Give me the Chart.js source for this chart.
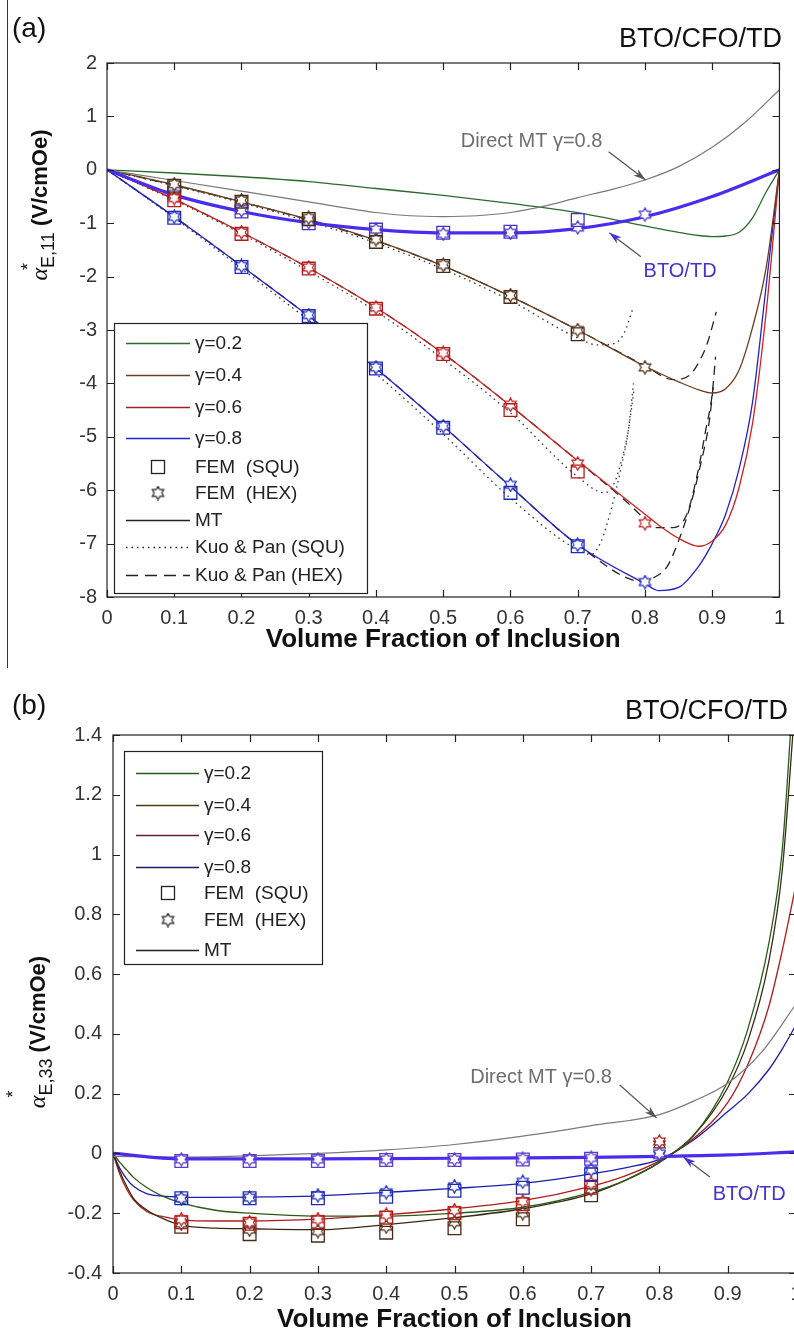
<!DOCTYPE html>
<html>
<head>
<meta charset="utf-8">
<script src="https://cdn.jsdelivr.net/npm/chart.js@4.4.0/dist/chart.umd.min.js"></script>
<style>
  html, body { margin: 0; padding: 0; background: #fff; overflow: hidden; }
  #wrap { position: relative; width: 794px; height: 1334px; overflow: hidden; }
  #chartA { position: absolute; left: 0; top: 0; }
  #chartB { position: absolute; left: 0; top: 660px; }
  #margin-line { position: absolute; left: 7px; top: 0; width: 1px; height: 668px; background: #333; }
</style>
</head>
<body>
<div id="wrap">
  <canvas id="chartA" width="794" height="660"></canvas>
  <canvas id="chartB" width="820" height="674"></canvas>
  <div id="margin-line"></div>
</div>
<script>
// ============ PANEL (a) DATA ============
const xTicksA = [0, 0.1, 0.2, 0.3, 0.4, 0.5, 0.6, 0.7, 0.8, 0.9, 1];
const xTickLabelsA = ['0', '0.1', '0.2', '0.3', '0.4', '0.5', '0.6', '0.7', '0.8', '0.9', '1'];
const yTicksA = [-8, -7, -6, -5, -4, -3, -2, -1, 0, 1, 2];
const yTickLabelsA = ['-8', '-7', '-6', '-5', '-4', '-3', '-2', '-1', '0', '1', '2'];

// MT curves, one x grid for the four gamma values
const mtXA = [0, 0.1, 0.2, 0.3, 0.4, 0.5, 0.6, 0.7, 0.8, 0.82, 0.85, 0.88, 0.9, 0.92, 0.94, 0.96, 0.98, 1.0];
const mtA_g02 = [0, -0.06, -0.13, -0.22, -0.35, -0.48, -0.63, -0.8, -1.05, -1.1, -1.17, -1.23, -1.25, -1.24, -1.17, -0.9, -0.42, 0];
const mtA_g04 = [0, -0.28, -0.6, -0.93, -1.32, -1.8, -2.37, -3.0, -3.68, -3.8, -3.97, -4.12, -4.18, -4.1, -3.75, -2.95, -1.85, 0];
const mtA_g06 = [0, -0.55, -1.17, -1.84, -2.58, -3.44, -4.42, -5.45, -6.45, -6.65, -6.9, -7.05, -6.95, -6.65, -5.95, -4.75, -2.7, 0];
const mtA_g08 = [0, -0.88, -1.8, -2.74, -3.72, -4.8, -5.93, -7.02, -7.75, -7.88, -7.82, -7.42, -7.0, -6.45, -5.6, -4.35, -2.2, 0];

// Direct MT gamma=0.8 (grey)
const directXA = [0, 0.1, 0.2, 0.3, 0.4, 0.45, 0.5, 0.55, 0.6, 0.65, 0.7, 0.75, 0.8, 0.85, 0.9, 0.95, 1.0];
const directA = [0, -0.2, -0.4, -0.6, -0.8, -0.86, -0.875, -0.86, -0.8, -0.68, -0.52, -0.37, -0.19, 0.06, 0.42, 0.9, 1.5];

// BTO/TD (thick blue)
const btoXA = [0, 0.1, 0.2, 0.3, 0.4, 0.5, 0.6, 0.7, 0.8, 0.9, 1.0];
const btoA = [0, -0.47, -0.78, -0.99, -1.12, -1.18, -1.18, -1.1, -0.88, -0.5, 0];

// Kuo & Pan (SQU) dotted
const kpsXA_g04 = [0, 0.1, 0.2, 0.3, 0.4, 0.5, 0.6, 0.7, 0.73, 0.755, 0.77, 0.782];
const kpsA_g04 = [0, -0.3, -0.62, -0.97, -1.37, -1.86, -2.45, -3.15, -3.28, -3.25, -3.03, -2.6];
const kpsXA_g06 = [0, 0.1, 0.2, 0.3, 0.4, 0.5, 0.6, 0.7, 0.74, 0.755, 0.765, 0.775, 0.784];
const kpsA_g06 = [0, -0.57, -1.2, -1.9, -2.65, -3.55, -4.55, -5.75, -6.05, -5.85, -5.45, -4.9, -4.1];
const kpsXA_g08 = [0, 0.1, 0.2, 0.3, 0.4, 0.5, 0.6, 0.7, 0.72, 0.735, 0.75, 0.765, 0.775, 0.783];
const kpsA_g08 = [0, -0.9, -1.85, -2.82, -3.82, -4.95, -6.15, -7.12, -7.2, -6.95, -6.35, -5.55, -4.9, -4.0];

// Kuo & Pan (HEX) dashed
const kphXA_g04 = [0, 0.1, 0.2, 0.3, 0.4, 0.5, 0.6, 0.7, 0.8, 0.842, 0.867, 0.882, 0.893, 0.906];
const kphA_g04 = [0, -0.29, -0.6, -0.94, -1.33, -1.8, -2.37, -3.0, -3.67, -3.93, -3.84, -3.56, -3.24, -2.66];
const kphXA_g06 = [0, 0.1, 0.2, 0.3, 0.4, 0.5, 0.6, 0.7, 0.8, 0.81, 0.842, 0.862, 0.878, 0.89, 0.9, 0.905];
const kphA_g06 = [0, -0.55, -1.17, -1.84, -2.58, -3.44, -4.42, -5.45, -6.55, -6.7, -6.7, -6.46, -5.7, -4.9, -4.2, -3.5];
const kphXA_g08 = [0, 0.1, 0.2, 0.3, 0.4, 0.5, 0.6, 0.7, 0.8, 0.813, 0.833, 0.849, 0.867, 0.882, 0.896, 0.902];
const kphA_g08 = [0, -0.88, -1.8, -2.74, -3.72, -4.8, -5.93, -7.02, -7.72, -7.64, -7.43, -6.98, -6.31, -5.56, -4.68, -4.0];

// FEM points
const femSquX = [0.1, 0.2, 0.3, 0.4, 0.5, 0.6, 0.7];
const femHexX = [0.1, 0.2, 0.3, 0.4, 0.5, 0.6, 0.7, 0.8];
const squA_g04 = [-0.3, -0.6, -0.92, -1.35, -1.8, -2.38, -3.08];
const hexA_g04 = [-0.27, -0.57, -0.9, -1.3, -1.78, -2.35, -3.0, -3.7];
const squA_g06 = [-0.57, -1.2, -1.85, -2.6, -3.45, -4.5, -5.65];
const hexA_g06 = [-0.53, -1.17, -1.83, -2.58, -3.43, -4.4, -5.5, -6.62];
const squA_g08 = [-0.9, -1.82, -2.74, -3.72, -4.83, -6.05, -7.05];
const hexA_g08 = [-0.88, -1.8, -2.72, -3.7, -4.8, -5.9, -7.02, -7.72];
const squA_bto = [-0.43, -0.78, -1.0, -1.12, -1.18, -1.16, -0.94];
const hexA_bto = [-0.45, -0.76, -0.98, -1.12, -1.2, -1.18, -1.08, -0.84];

// ============ PANEL (b) DATA ============
const xTicksB = [0, 0.1, 0.2, 0.3, 0.4, 0.5, 0.6, 0.7, 0.8, 0.9, 1];
const xTickLabelsB = ['0', '0.1', '0.2', '0.3', '0.4', '0.5', '0.6', '0.7', '0.8', '0.9', '1'];
const yTicksB = [-0.4, -0.2, 0, 0.2, 0.4, 0.6, 0.8, 1, 1.2, 1.4];
const yTickLabelsB = ['-0.4', '-0.2', '0', '0.2', '0.4', '0.6', '0.8', '1', '1.2', '1.4'];

const mtXB = [0, 0.01, 0.02, 0.03, 0.05, 0.07, 0.1, 0.15, 0.2, 0.3, 0.4, 0.5, 0.6, 0.7, 0.75, 0.8, 0.85, 0.9, 0.93, 0.96, 0.98, 1.0];
const mtB_g02 = [0, -0.03, -0.055, -0.08, -0.115, -0.14, -0.165, -0.19, -0.2, -0.21, -0.21, -0.2, -0.18, -0.13, -0.09, -0.03, 0.06, 0.24, 0.42, 0.7, 1.02, 1.7];
const mtB_g04 = [0, -0.06, -0.11, -0.15, -0.19, -0.215, -0.24, -0.25, -0.252, -0.255, -0.238, -0.215, -0.185, -0.135, -0.09, -0.03, 0.06, 0.22, 0.38, 0.64, 0.95, 1.55];
const mtB_g06 = [0, -0.07, -0.12, -0.155, -0.195, -0.21, -0.222, -0.226, -0.226, -0.22, -0.205, -0.185, -0.158, -0.11, -0.075, -0.025, 0.05, 0.17, 0.3, 0.49, 0.68, 0.9];
const mtB_g08 = [0, -0.05, -0.085, -0.11, -0.135, -0.142, -0.146, -0.147, -0.146, -0.142, -0.13, -0.117, -0.1, -0.068, -0.048, -0.02, 0.045, 0.14, 0.2, 0.28, 0.35, 0.43];

const directXB = [0, 0.1, 0.2, 0.3, 0.4, 0.5, 0.6, 0.7, 0.8, 0.85, 0.9, 0.95, 1.0];
const directB = [-0.01, -0.012, -0.008, 0.0, 0.012, 0.03, 0.058, 0.093, 0.13, 0.175, 0.235, 0.34, 0.5];

const btoXB = [0, 0.1, 0.2, 0.3, 0.4, 0.5, 0.6, 0.7, 0.8, 0.9, 1.0];
const btoB = [0, -0.018, -0.018, -0.018, -0.017, -0.016, -0.015, -0.013, -0.01, -0.005, 0.005];

const squB_bto = [-0.025, -0.025, -0.025, -0.022, -0.022, -0.02, -0.018];
const hexB_bto = [-0.02, -0.02, -0.02, -0.02, -0.02, -0.018, -0.015, 0.0];
const squB_g08 = [-0.15, -0.15, -0.15, -0.145, -0.125, -0.115, -0.07];
const hexB_g08 = [-0.15, -0.148, -0.14, -0.13, -0.11, -0.095, -0.055, -0.005];
const squB_g06 = [-0.23, -0.235, -0.23, -0.215, -0.2, -0.17, -0.115];
const hexB_g06 = [-0.22, -0.23, -0.22, -0.205, -0.19, -0.16, -0.1, 0.04];
const squB_g04 = [-0.245, -0.27, -0.275, -0.265, -0.25, -0.22, -0.14];
const hexB_g04 = [-0.235, -0.255, -0.26, -0.245, -0.23, -0.2, -0.12, 0.03];

// ============ STYLES ============
const FONT = '"Liberation Sans", Arial, sans-serif';
const C_G02 = '#2d6a2d';
const C_G04 = '#6b3d1e';
const C_G06 = '#cc2222';
const C_G08 = '#2222cc';
const C_BTO = '#4a2cf0';
const C_GREY = '#7a7a7a';

// 6-pointed star marker as a small canvas
function starImg(color) {
  const size = 15;
  const c = document.createElement('canvas');
  c.width = size; c.height = size;
  const g = c.getContext('2d');
  const cx = size / 2, cy = size / 2, ro = 6.6, ri = 3.8;
  g.beginPath();
  for (let i = 0; i < 12; i++) {
    const r = i % 2 === 0 ? ro : ri;
    const ang = -Math.PI / 2 + i * Math.PI / 6;
    const px = cx + r * Math.cos(ang), py = cy + r * Math.sin(ang);
    if (i === 0) g.moveTo(px, py); else g.lineTo(px, py);
  }
  g.closePath();
  g.fillStyle = '#fff';
  g.fill();
  g.strokeStyle = color;
  g.lineWidth = 1.2;
  g.stroke();
  return c;
}

function curve(xs, ys, color, width, dash, order) {
  return {
    data: xs.map((x, i) => ({ x: x, y: ys[i] })),
    showLine: true,
    borderColor: color,
    borderWidth: width,
    borderDash: dash || [],
    pointRadius: 0,
    pointHoverRadius: 0,
    cubicInterpolationMode: 'monotone',
    fill: false,
    order: order === undefined ? 2 : order
  };
}

function markers(xs, ys, color, kind) {
  return {
    data: xs.map((x, i) => ({ x: x, y: ys[i] })),
    showLine: false,
    pointStyle: kind === 'star' ? starImg(color) : 'rect',
    pointRadius: 9,
    borderColor: color,
    borderWidth: 1.3,
    backgroundColor: 'rgba(0,0,0,0)',
    order: 0
  };
}

function tickLabel(ticks, labels, v) {
  let best = 0;
  ticks.forEach((t, i) => { if (Math.abs(t - v) < Math.abs(ticks[best] - v)) best = i; });
  return labels[best];
}

function scalesFor(xTicks, xLabels, yTicks, yLabels, yMin, yMax, yWidth, xHeight, yPad) {
  return {
    x: {
      type: 'linear', min: 0, max: 1,
      afterBuildTicks: s => { s.ticks = xTicks.map(v => ({ value: v })); },
      afterFit: s => { s.height = xHeight; },
      ticks: {
        callback: v => tickLabel(xTicks, xLabels, v),
        font: { family: FONT, size: 20 }, color: '#333', padding: 9,
        maxRotation: 0, autoSkip: false
      },
      grid: { display: false, drawTicks: false },
      border: { display: false }
    },
    y: {
      type: 'linear', min: yMin, max: yMax,
      afterBuildTicks: s => { s.ticks = yTicks.map(v => ({ value: v })); },
      afterFit: s => { s.width = yWidth; },
      ticks: {
        callback: v => tickLabel(yTicks, yLabels, v),
        font: { family: FONT, size: 20 }, color: '#333', padding: yPad,
        autoSkip: false
      },
      grid: { display: false, drawTicks: false },
      border: { display: false }
    }
  };
}

// ============ DECORATION PLUGIN (frame, inward ticks, legend, notes, titles) ============
function makeDecor(cfg) {
  return {
    id: 'decor',
    afterDatasetsDraw(chart) {
      const ctx = chart.ctx;
      const a = chart.chartArea;
      const xs = chart.scales.x, ys = chart.scales.y;
      ctx.save();

      // frame + inward ticks
      ctx.strokeStyle = '#222';
      ctx.lineWidth = 1.2;
      ctx.strokeRect(a.left, a.top, a.right - a.left, a.bottom - a.top);
      ctx.beginPath();
      xs.ticks.forEach(t => {
        const px = Math.round(xs.getPixelForValue(t.value)) + 0.5;
        ctx.moveTo(px, a.bottom); ctx.lineTo(px, a.bottom - 7);
        ctx.moveTo(px, a.top); ctx.lineTo(px, a.top + 7);
      });
      ys.ticks.forEach(t => {
        const py = Math.round(ys.getPixelForValue(t.value)) + 0.5;
        ctx.moveTo(a.left, py); ctx.lineTo(a.left + 7, py);
        ctx.moveTo(a.right, py); ctx.lineTo(a.right - 7, py);
      });
      ctx.stroke();

      // annotations with arrows
      cfg.notes.forEach(n => {
        const tx = xs.getPixelForValue(n.text[0]), ty = ys.getPixelForValue(n.text[1]);
        ctx.font = '20px ' + FONT;
        ctx.fillStyle = n.color;
        ctx.textAlign = 'left';
        ctx.textBaseline = 'alphabetic';
        ctx.fillText(n.label, tx, ty);
        const x1 = xs.getPixelForValue(n.from[0]), y1 = ys.getPixelForValue(n.from[1]);
        const x2 = xs.getPixelForValue(n.to[0]), y2 = ys.getPixelForValue(n.to[1]);
        ctx.strokeStyle = '#555';
        ctx.lineWidth = 1.3;
        ctx.beginPath(); ctx.moveTo(x1, y1); ctx.lineTo(x2, y2); ctx.stroke();
        const ang = Math.atan2(y2 - y1, x2 - x1);
        ctx.fillStyle = n.head;
        ctx.beginPath();
        ctx.moveTo(x2, y2);
        ctx.lineTo(x2 - 13 * Math.cos(ang - 0.3), y2 - 13 * Math.sin(ang - 0.3));
        ctx.lineTo(x2 - 9 * Math.cos(ang), y2 - 9 * Math.sin(ang));
        ctx.lineTo(x2 - 13 * Math.cos(ang + 0.3), y2 - 13 * Math.sin(ang + 0.3));
        ctx.closePath();
        ctx.fill();
      });

      // legend box
      const L = cfg.legend;
      ctx.fillStyle = '#fff';
      ctx.fillRect(L.box[0], L.box[1], L.box[2] - L.box[0], L.box[3] - L.box[1]);
      ctx.strokeStyle = '#222';
      ctx.lineWidth = 1.2;
      ctx.strokeRect(L.box[0] + 0.5, L.box[1] + 0.5, L.box[2] - L.box[0], L.box[3] - L.box[1]);
      ctx.font = '19px ' + FONT;
      ctx.textAlign = 'left';
      ctx.textBaseline = 'middle';
      L.rows.forEach(r => {
        if (r.kind === 'line') {
          ctx.strokeStyle = r.color;
          ctx.lineWidth = 1.4;
          ctx.setLineDash(r.dash || []);
          ctx.beginPath();
          ctx.moveTo(L.lineX[0], r.y + 0.5); ctx.lineTo(L.lineX[1], r.y + 0.5);
          ctx.stroke();
          ctx.setLineDash([]);
        } else if (r.kind === 'square') {
          ctx.strokeStyle = '#222';
          ctx.lineWidth = 1.3;
          ctx.strokeRect(L.symX - 6.5, r.y - 6.5, 13, 13);
        } else if (r.kind === 'star') {
          const img = starImg('#222');
          ctx.drawImage(img, L.symX - img.width / 2, r.y - img.height / 2);
        }
        ctx.fillStyle = '#222';
        ctx.fillText(r.label, L.textX, r.y + 1);
      });

      // panel label, title, axis titles
      ctx.fillStyle = '#111';
      ctx.textBaseline = 'alphabetic';
      ctx.font = '28px ' + FONT;
      ctx.textAlign = 'left';
      ctx.fillText(cfg.panel[0], cfg.panel[1], cfg.panel[2]);
      ctx.font = '27px ' + FONT;
      ctx.textAlign = 'right';
      ctx.fillText('BTO/CFO/TD', cfg.title[0], cfg.title[1]);
      ctx.font = 'bold 26px ' + FONT;
      ctx.textAlign = 'center';
      ctx.fillText('Volume Fraction of Inclusion', (a.left + a.right) / 2, cfg.xTitleY);

      // rotated y title: alpha*_{E,ij} (V/cmOe)
      ctx.save();
      ctx.translate(cfg.yTitle[0], cfg.yTitle[1]);
      ctx.rotate(-Math.PI / 2);
      const fAlpha = 'italic 24px "Liberation Serif", serif';
      const fSub = '18px ' + FONT;
      const fMain = 'bold 22px ' + FONT;
      ctx.font = fAlpha; const wA = ctx.measureText('α').width;
      ctx.font = fSub; const wS = ctx.measureText(cfg.sub).width;
      ctx.font = fMain; const wM = ctx.measureText(' (V/cmOe)').width;
      let x0 = -(wA + wS + wM) / 2;
      ctx.textAlign = 'left';
      ctx.font = fAlpha; ctx.fillText('α', x0, 0);
      ctx.font = '18px ' + FONT; ctx.fillText('*', x0 + wA - 2, -cfg.starUp);
      ctx.font = fSub; ctx.fillText(cfg.sub, x0 + wA, 7);
      ctx.font = fMain; ctx.fillText(' (V/cmOe)', x0 + wA + wS, 0);
      ctx.restore();

      ctx.restore();
    }
  };
}

// ============ CHART (a) ============
const datasetsA = [
  markers(femSquX, squA_g04, '#4a2a14', 'rect'),
  markers(femHexX, hexA_g04, '#4a2a14', 'star'),
  markers(femSquX, squA_g06, '#b81818', 'rect'),
  markers(femHexX, hexA_g06, '#b81818', 'star'),
  markers(femSquX, squA_g08, '#1d2ab8', 'rect'),
  markers(femHexX, hexA_g08, '#1d2ab8', 'star'),
  markers(femSquX, squA_bto, '#4b30c8', 'rect'),
  markers(femHexX, hexA_bto, '#4b30c8', 'star'),
  curve(btoXA, btoA, C_BTO, 3.2, [], 1),
  curve(directXA, directA, C_GREY, 1.2),
  curve(mtXA, mtA_g02, C_G02, 1.3),
  curve(mtXA, mtA_g04, C_G04, 1.3),
  curve(mtXA, mtA_g06, C_G06, 1.3),
  curve(mtXA, mtA_g08, C_G08, 1.3),
  curve(kpsXA_g04, kpsA_g04, '#333', 1.3, [1.5, 4]),
  curve(kpsXA_g06, kpsA_g06, '#333', 1.3, [1.5, 4]),
  curve(kpsXA_g08, kpsA_g08, '#333', 1.3, [1.5, 4]),
  curve(kphXA_g04, kphA_g04, '#222', 1.3, [9, 6]),
  curve(kphXA_g06, kphA_g06, '#222', 1.3, [9, 6]),
  curve(kphXA_g08, kphA_g08, '#222', 1.3, [9, 6])
];

new Chart(document.getElementById('chartA'), {
  type: 'scatter',
  data: { datasets: datasetsA },
  options: {
    responsive: false,
    animation: false,
    events: [],
    layout: { padding: { left: 0, top: 63, right: 3, bottom: 0 } },
    plugins: { legend: { display: false }, tooltip: { enabled: false } },
    scales: scalesFor(xTicksA, xTickLabelsA, yTicksA, yTickLabelsA, -8, 2, 107, 63, 10)
  },
  plugins: [makeDecor({
    panel: ['(a)', 12, 37],
    title: [782, 47],
    xTitleY: 647,
    yTitle: [47, 205],
    sub: 'E,11',
    starUp: 13,
    notes: [
      { label: 'Direct MT γ=0.8', color: '#6e6e6e', head: '#555', text: [0.526, 0.43], from: [0.746, 0.34], to: [0.801, -0.19] },
      { label: 'BTO/TD', color: '#4433cc', head: '#4433dd', text: [0.798, -2.0], from: [0.794, -1.63], to: [0.747, -1.18] }
    ],
    legend: {
      box: [114, 323, 367, 593], lineX: [126, 190], textX: 195, symX: 158,
      rows: [
        { y: 343, kind: 'line', color: C_G02, label: 'γ=0.2' },
        { y: 375, kind: 'line', color: C_G04, label: 'γ=0.4' },
        { y: 407, kind: 'line', color: '#a02222', label: 'γ=0.6' },
        { y: 438, kind: 'line', color: C_G08, label: 'γ=0.8' },
        { y: 467, kind: 'square', label: 'FEM  (SQU)' },
        { y: 493, kind: 'star', label: 'FEM  (HEX)' },
        { y: 520, kind: 'line', color: '#222', label: 'MT' },
        { y: 547, kind: 'line', color: '#222', dash: [1.5, 4], label: 'Kuo & Pan (SQU)' },
        { y: 575, kind: 'line', color: '#222', dash: [12, 7], label: 'Kuo & Pan (HEX)' }
      ]
    }
  })]
});

// ============ CHART (b) ============
const datasetsB = [
  markers(femSquX, squB_bto, '#5a3ad0', 'rect'),
  markers(femHexX, hexB_bto, '#5a3ad0', 'star'),
  markers(femSquX, squB_g08, '#1d2ab8', 'rect'),
  markers(femHexX, hexB_g08, '#1d2ab8', 'star'),
  markers(femSquX, squB_g06, '#b81818', 'rect'),
  markers(femHexX, hexB_g06, '#b81818', 'star'),
  markers(femSquX, squB_g04, '#4a2a14', 'rect'),
  markers(femHexX, hexB_g04, '#4a2a14', 'star'),
  curve(btoXB, btoB, C_BTO, 3.2, [], 1),
  curve(directXB, directB, C_GREY, 1.2),
  curve(mtXB, mtB_g02, '#2a5a1a', 1.3),
  curve(mtXB, mtB_g04, '#3a2a14', 1.3),
  curve(mtXB, mtB_g06, '#b01c1c', 1.3),
  curve(mtXB, mtB_g08, '#1c1cb0', 1.3)
];

new Chart(document.getElementById('chartB'), {
  type: 'scatter',
  data: { datasets: datasetsB },
  options: {
    responsive: false,
    animation: false,
    events: [],
    layout: { padding: { left: 0, top: 75, right: 24, bottom: 0 } },
    plugins: { legend: { display: false }, tooltip: { enabled: false } },
    scales: scalesFor(xTicksB, xTickLabelsB, yTicksB, yTickLabelsB, -0.4, 1.4, 113, 61, 11)
  },
  plugins: [makeDecor({
    panel: ['(b)', 12, 54],
    title: [788, 59],
    xTitleY: 667,
    yTitle: [45, 372],
    sub: 'E,33',
    starUp: 26,
    notes: [
      { label: 'Direct MT γ=0.8', color: '#6e6e6e', head: '#555', text: [0.523, 0.236], from: [0.742, 0.229], to: [0.796, 0.119] },
      { label: 'BTO/TD', color: '#4433cc', head: '#4433dd', text: [0.878, -0.156], from: [0.874, -0.079], to: [0.835, -0.012] }
    ],
    legend: {
      box: [124, 751 - 660, 322, 964 - 660], lineX: [136, 199], textX: 204, symX: 168,
      rows: [
        { y: 773 - 660, kind: 'line', color: '#2a5a1a', label: 'γ=0.2' },
        { y: 805 - 660, kind: 'line', color: '#4a3a1a', label: 'γ=0.4' },
        { y: 835 - 660, kind: 'line', color: '#6a1a3a', label: 'γ=0.6' },
        { y: 867 - 660, kind: 'line', color: '#1a1a7a', label: 'γ=0.8' },
        { y: 893 - 660, kind: 'square', label: 'FEM  (SQU)' },
        { y: 920 - 660, kind: 'star', label: 'FEM  (HEX)' },
        { y: 950 - 660, kind: 'line', color: '#222', label: 'MT' }
      ]
    }
  })]
});
</script>
</body>
</html>
